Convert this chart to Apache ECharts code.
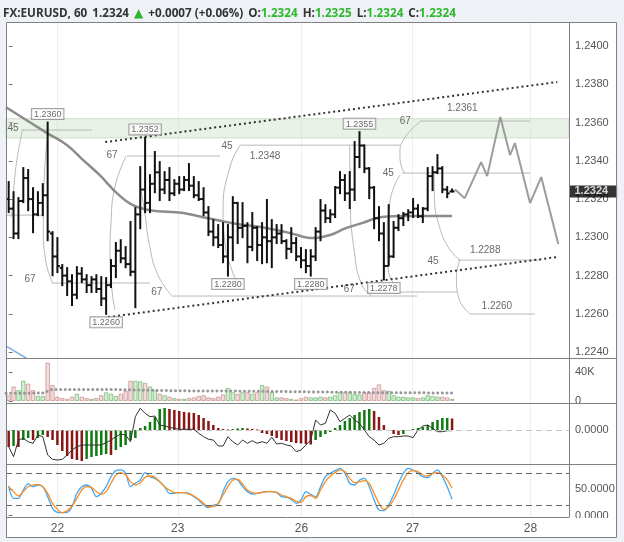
<!DOCTYPE html>
<html>
<head>
<meta charset="utf-8">
<title>FX:EURUSD, 60</title>
<script src="https://cdn.jsdelivr.net/npm/echarts@6.0.0/dist/echarts.min.js"></script>
<style>
  html, body { margin: 0; padding: 0; background: #eef1f5; }
  #chart { width: 624px; height: 542px; }
</style>
</head>
<body>
<div id="chart"></div>
<script>
// hourly bars, x = bar number counted from the left edge of the chart
const opens = [1.2320,1.2315,1.2302,1.2319,1.2331,1.2320,1.2312,1.2318,1.2322,1.2302,
  1.2290,1.2284,1.2280,1.2277,1.2270,1.2281,1.2278,1.2275,1.2278,1.2273,
  1.2268,1.2275,1.2285,1.2293,1.2289,1.2286,1.2282,1.2312,1.2325,1.2318,
  1.2328,1.2334,1.2325,1.2330,1.2323,1.2328,1.2325,1.2330,1.2327,1.2322,
  1.2320,1.2313,1.2303,1.2300,1.2296,1.2290,1.2300,1.2318,1.2305,1.2306,
  1.2295,1.2305,1.2296,1.2300,1.2298,1.2300,1.2302,1.2298,1.2294,1.2297,
  1.2290,1.2288,1.2285,1.2290,1.2303,1.2314,1.2310,1.2312,1.2326,1.2330,
  1.2323,1.2325,1.2342,1.2348,1.2336,1.2326,1.2310,1.2302,1.2285,1.2290,
  1.2305,1.2310,1.2312,1.2313,1.2315,1.2311,1.2315,1.2332,1.2334,1.2336,
  1.2325,1.2324];
const highs = [1.23289,1.23236,1.23205,1.23362,1.23352,1.23257,1.23236,1.23278,1.23600,1.23027,
  1.22996,1.22855,1.22839,1.22802,1.22844,1.22839,1.22802,1.22792,1.22802,1.22792,
  1.22787,1.22881,1.22970,1.22985,1.22949,1.23080,1.23153,1.23367,1.23520,1.23325,
  1.23446,1.23393,1.23341,1.23362,1.23299,1.23315,1.23315,1.23383,1.23315,1.23289,
  1.23257,1.23158,1.23090,1.23064,1.23074,1.23064,1.23210,1.23180,1.23179,1.23074,
  1.23127,1.23053,1.23074,1.23195,1.23090,1.23064,1.23064,1.22985,1.23048,1.22996,
  1.22944,1.22933,1.22933,1.23048,1.23195,1.23168,1.23142,1.23263,1.23341,1.23325,
  1.23341,1.23498,1.23550,1.23480,1.23362,1.23263,1.23158,1.23074,1.23168,1.23080,
  1.23116,1.23127,1.23142,1.23200,1.23168,1.23153,1.23362,1.23367,1.23430,1.23367,
  1.23263,1.23250];
const lows = [1.23132,1.22996,1.22996,1.23184,1.23142,1.23027,1.23116,1.23116,1.22985,1.22802,
  1.22818,1.22750,1.22698,1.22646,1.22682,1.22766,1.22714,1.22714,1.22714,1.22646,
  1.22600,1.22740,1.22792,1.22870,1.22844,1.22802,1.22635,1.23048,1.23132,1.23132,
  1.23236,1.23195,1.23231,1.23195,1.23221,1.23231,1.23247,1.23247,1.23210,1.23195,
  1.23116,1.23012,1.22959,1.22949,1.22870,1.22800,1.22881,1.22970,1.23001,1.22870,
  1.22933,1.22881,1.22865,1.22870,1.22844,1.22970,1.22970,1.22891,1.22923,1.22881,
  1.22844,1.22818,1.22800,1.22881,1.22985,1.23080,1.23080,1.23106,1.23231,1.23195,
  1.23153,1.23195,1.23367,1.23341,1.23205,1.23048,1.22985,1.22780,1.22855,1.22897,
  1.23038,1.23064,1.23090,1.23106,1.23106,1.23080,1.23142,1.23247,1.23336,1.23236,
  1.23210,1.23240];
const closes = [1.2315,1.2302,1.2319,1.2331,1.2320,1.2312,1.2318,1.2322,1.2303,1.2290,
  1.2285,1.2280,1.2277,1.2270,1.2281,1.2278,1.2275,1.2278,1.2273,1.2268,
  1.2275,1.2285,1.2293,1.2289,1.2286,1.2282,1.2312,1.2325,1.2318,1.2328,
  1.2334,1.2325,1.2330,1.2323,1.2328,1.2325,1.2330,1.2327,1.2322,1.2320,
  1.2313,1.2303,1.2300,1.2296,1.2290,1.2300,1.2318,1.2305,1.2306,1.2295,
  1.2305,1.2296,1.2300,1.2298,1.2300,1.2302,1.2298,1.2294,1.2297,1.2290,
  1.2288,1.2285,1.2290,1.2303,1.2314,1.2310,1.2312,1.2326,1.2330,1.2323,
  1.2325,1.2342,1.2348,1.2336,1.2326,1.2310,1.2302,1.2285,1.2290,1.2305,
  1.2310,1.2312,1.2313,1.2315,1.2311,1.2315,1.2332,1.2334,1.2336,1.2325,
  1.2323,1.2324];

// volume in thousands
const volumesK = [8,20,15,28,24,15,7,7,53,22, 6,4,3,6,10,6,4,3,4,8,
  12,10,7,10,14,28,28,27,25,20, 15,10,8,6,4,3,3,4,5,7,
  8,5,4,6,9,18,12,10,12,12, 10,12,22,20,12,5,5,4,3,2,
  4,6,5,5,6,5,6,8,12,12, 12,10,9,12,12,18,23,15,14,8,
  6,6,5,5,4,5,8,7,6,6, 5,3];
const volumeAvgK = [[-0.55,10.5],[7,11],[9,16],[20,16],[27,15],[35,14],[50,13.5],[62,12.5],[75,11.5],[91,11]];

const macdHist = [-17e-5,-16e-5,-17e-5,-10e-5,-8e-5,-10e-5,-8e-5,-5e-5,-7e-5,-10e-5,
  -15e-5,-21e-5,-26e-5,-29e-5,-30e-5,-31e-5,-29e-5,-27e-5,-26e-5,-25e-5,
  -24e-5,-25e-5,-20e-5,-17e-5,-15e-5,-10e-5,-8e-5,2e-5,4e-5,8e-5,
  13e-5,21e-5,22e-5,21e-5,20e-5,19e-5,18e-5,17.5e-5,17e-5,15e-5,
  12e-5,9e-5,5e-5,2e-5,1e-5,0.5e-5,1e-5,1.5e-5,2e-5,1.5e-5,
  1e-5,0.5e-5,-3e-5,-4e-5,-6e-5,-8e-5,-10e-5,-11e-5,-12e-5,-13e-5,
  -13.5e-5,-14e-5,-14.5e-5,-10e-5,-7e-5,-4e-5,-2e-5,2e-5,5e-5,9e-5,
  12e-5,15e-5,18e-5,20e-5,21e-5,19e-5,13e-5,5e-5,-1e-5,-4e-5,
  -5e-5,-4e-5,-1e-5,1e-5,2e-5,3e-5,5e-5,8e-5,10e-5,12e-5,
  12e-5,11.5e-5];
const macdLine = [-16.7e-5,-26.7e-5,-10e-5,-8.3e-5,-11.7e-5,-13.3e-5,-5e-5,-6.7e-5,-25e-5,-29.3e-5,
  -30e-5,-29.3e-5,-25e-5,-20e-5,-16.7e-5,-15e-5,-15e-5,-15e-5,-15e-5,-15e-5,
  -12.7e-5,-10e-5,-6.7e-5,-4e-5,-5e-5,-11.7e-5,13.3e-5,21.7e-5,16.7e-5,13.3e-5,
  14e-5,5e-5,4e-5,2.7e-5,1.7e-5,0.7e-5,0.7e-5,0.7e-5,0.7e-5,-3.3e-5,
  -6.7e-5,-9.3e-5,-10e-5,-16e-5,-16e-5,-6.7e-5,-11.7e-5,-15e-5,-10e-5,-13.3e-5,
  -10.7e-5,-13.3e-5,-11.7e-5,-13.3e-5,-7.3e-5,-14e-5,-13.3e-5,-15e-5,-16e-5,-21.7e-5,
  -20e-5,-15e-5,-10e-5,10e-5,5e-5,6.7e-5,20e-5,16.7e-5,8.3e-5,11.7e-5,
  15e-5,10e-5,6.7e-5,0,-6.7e-5,-10e-5,-15e-5,-13.3e-5,-8.3e-5,-6.7e-5,
  -6.7e-5,-6e-5,-6e-5,-7.7e-5,0,4e-5,5e-5,1.7e-5,-1.7e-5,-1.7e-5,
  -0.7e-5,-0.7e-5];
const macdLevels = [5e-5, -16e-5];

const stochK = [56,32.6,32.6,48.4,59.8,54.7,57.9,54.7,35.8,13.7,
  6.1,5.5,6.1,16.8,42.1,54.7,57.9,51.6,35.8,42.1,
  54.7,73.7,85.1,86.3,80,54.7,61.1,67.4,81.3,73.7,
  70.5,64.2,54.7,42.1,42.1,43.4,43.4,42.1,35.8,29.5,
  20,14.9,20,21.9,45.3,64.2,70.5,67.4,54.7,45.3,
  40.8,42.1,44,45.3,45.3,43.4,35.8,34.5,30.7,23.2,
  29.5,45.3,40,35.8,54.7,73.7,80,85.1,89.5,80,
  61.1,57.9,67.4,70.5,54.7,29.5,10.5,9.3,20,38.9,
  61.1,80,89.5,86.3,80,73.7,71.8,80,86.3,73.7,
  54.7,30.7];
const stochD = [54.7,45.3,37.1,45.3,54.7,57.9,59.2,54.7,42.1,23.2,
  11.8,5.5,9.3,18.1,32.6,48.4,54.7,53.5,45.3,40.8,
  45.3,61.1,76.8,81.3,76.8,64.2,57.9,62.3,72.4,74.9,
  72.4,64.2,54.7,48.4,43.4,43.4,43.4,40.8,37.1,30.7,
  23.2,16.8,16.8,23.2,38.9,54.7,67.4,68.6,59.8,48.4,
  43.4,42.1,44,45.3,45.3,44,38.9,35.8,32.6,26.8,
  25,35.8,38,32.6,48.4,64.2,74.9,81.3,86.3,83.2,
  70.5,62.3,64.2,66.1,61.1,42.1,23.2,11.8,16.8,29.5,
  48.4,67.4,81.3,85.1,83.2,76.8,74.9,80,81.3,76.8,
  67.4,51.6];
const stochLevels = [80, 20];

// moving average and drawings on the price pane, as [bar, price]
const maPoints = [[-0.55,1.23680],[7.9,1.23545],[12,1.23482],[15.3,1.23404],[18.7,1.23325],[22.2,1.23231],
  [25.5,1.23168],[29,1.23142],[35.8,1.23127],[40.7,1.23101],[46,1.23074],[53,1.23048],[57.8,1.23022],
  [62.5,1.22996],[66,1.23012],[69.2,1.23048],[72.5,1.23074],[76.6,1.23106],[82.2,1.23111],[91,1.23111]];
const channelUpper = [[19.8,1.23498],[112.6,1.23812]];
const channelLower = [[20.4,1.22583],[112.6,1.22897]];
const forecast = [[91.6,1.23250],[93.6,1.23205],[96.96,1.23393],[98.2,1.23320],[100.9,1.23629],
  [102.9,1.23430],[103.9,1.23493],[107,1.23179],[109.3,1.23315],[112.8,1.22965]];
const blueTrail = [[-0.55,1.22431],[3.6,1.22369]];
const zoneBand = [1.2352, 1.2362];

const fibLevels = [[2.7,17.1,1.23561],[-0.55,7.0,1.23116],[8.9,29.0,1.22761],[24.3,43.4,1.23425],
  [47.5,80.3,1.23482],[33.7,83.8,1.22693],[80.3,92.0,1.22714],[84.4,107.0,1.23608],
  [80.7,107.0,1.23336],[92.2,109.1,1.22881],[94.7,108.0,1.22599]];
const fibArcs = [
  [[2.87,1.23566],[1.85,1.2343],[1.15,1.23289],[0.82,1.23168],[0.47,1.23106]],
  [[8.0,1.23535],[7.3,1.2331],[7.1,1.23048],[7.66,1.2287],[9.03,1.22761]],
  [[24.1,1.23425],[21.8,1.23263],[21.0,1.23074],[20.8,1.22897],[21.2,1.22724],[21.8,1.2262]],
  [[26.96,1.23273],[27.9,1.23132],[28.9,1.22959],[30.65,1.22802],[33.7,1.22688]],
  [[47.5,1.23482],[45.4,1.23367],[44.0,1.23142],[44.4,1.2297],[45.8,1.22829],[47.5,1.22735]],
  [[70.0,1.23482],[70.1,1.23195],[70.9,1.22933],[72.5,1.2275],[74.6,1.22693]],
  [[84.4,1.23603],[81.4,1.23524],[80.3,1.2344],[80.7,1.23362],[81.4,1.23336]],
  [[80.3,1.23325],[78.3,1.23195],[77.7,1.22985],[77.9,1.22829],[80.3,1.22724]],
  [[87.3,1.23336],[87.4,1.23200],[88.2,1.23074],[90.2,1.22949],[92.6,1.22881]],
  [[92.6,1.22881],[91.9,1.22792],[92.3,1.22688],[94.7,1.22599]]
];
const fibTexts = [[0.9,1.23571,'45'],[4.37,1.22782,'67'],[21.2,1.2343,'67'],[30.4,1.22714,'67'],
  [44.8,1.23477,'45'],[52.6,1.23425,'1.2348'],[69.9,1.22729,'67'],[77.9,1.23336,'45'],
  [81.4,1.23608,'67'],[93.1,1.23676,'1.2361'],[97.8,1.22933,'1.2288'],[87.1,1.22876,'45'],
  [100.2,1.2264,'1.2260']];
const pivots = [[8,1.2360,'top'],[28,1.2352,'top'],[72,1.2355,'top'],
  [20,1.2260,'bottom'],[45,1.2280,'bottom'],[62,1.2280,'bottom'],[77,1.2278,'bottom']];

const lastPrice = 1.2324;
const dayTicks = [10, 34.7, 60.1, 82.9, 107.1];
const dayLabels = ['22', '23', '26', '27', '28'];
const priceTicks = [1.224, 1.226, 1.228, 1.230, 1.232, 1.234, 1.236, 1.238, 1.240];

const xMin = -0.55, xMax = 115;
const font = 'Liberation Sans, Arial, sans-serif';
const chart = echarts.init(document.getElementById('chart'));

function xAxisFor(gi, labels) {
  return {
    type: 'value', gridIndex: gi, min: xMin, max: xMax,
    axisLine: { show: false },
    axisTick: { show: false, customValues: dayTicks },
    axisLabel: {
      show: labels, customValues: dayTicks, color: '#555', fontSize: 12, margin: 6,
      formatter: v => dayLabels[dayTicks.indexOf(v)] || ''
    },
    splitLine: { show: true, lineStyle: { color: '#eeeeee' } }
  };
}

function yAxisFor(gi, min, max, ticks, fmt) {
  return {
    type: 'value', gridIndex: gi, position: 'right', min, max,
    axisLine: { show: false },
    axisTick: { show: true, length: 4, customValues: ticks, lineStyle: { color: '#777' } },
    axisLabel: { customValues: ticks, formatter: fmt, color: '#555', fontSize: 11, margin: 6 },
    splitLine: { show: false }
  };
}

function renderBar(params, api) {
  const x = api.value(0);
  const o = api.coord([x, api.value(1)]);
  const h = api.coord([x, api.value(2)]);
  const l = api.coord([x, api.value(3)]);
  const c = api.coord([x, api.value(4)]);
  const style = { stroke: '#111', lineWidth: 2 };
  return {
    type: 'group',
    children: [
      { type: 'line', shape: { x1: h[0], y1: h[1] - 1, x2: l[0], y2: l[1] + 1 }, style },
      { type: 'line', shape: { x1: o[0] - 2.5, y1: o[1], x2: o[0], y2: o[1] }, style },
      { type: 'line', shape: { x1: c[0], y1: c[1], x2: c[0] + 2.5, y2: c[1] }, style }
    ]
  };
}

const drawColor = '#b8b8b8';
const priceSeries = [];

priceSeries.push({
  name: 'EURUSD', type: 'custom', xAxisIndex: 0, yAxisIndex: 0, z: 6,
  renderItem: renderBar,
  encode: { x: 0, y: [1, 2, 3, 4] },
  data: opens.map((o, i) => [i, o, highs[i], lows[i], closes[i]]),
  markArea: {
    silent: true,
    itemStyle: { color: 'rgba(205,226,200,0.45)', borderColor: '#cfdccb', borderWidth: 1 },
    data: [[{ xAxis: xMin, yAxis: zoneBand[0] }, { xAxis: xMax, yAxis: zoneBand[1] }]]
  }
});

fibLevels.forEach(([x1, x2, p]) => priceSeries.push({
  type: 'line', xAxisIndex: 0, yAxisIndex: 0, symbol: 'none', silent: true, z: 2,
  lineStyle: { color: drawColor, width: 1 }, data: [[x1, p], [x2, p]]
}));
fibArcs.forEach(arc => priceSeries.push({
  type: 'line', xAxisIndex: 0, yAxisIndex: 0, symbol: 'none', silent: true, z: 2,
  smooth: 0.5, lineStyle: { color: drawColor, width: 1 }, data: arc
}));

priceSeries.push(
  { name: 'MA', type: 'line', xAxisIndex: 0, yAxisIndex: 0, symbol: 'none', smooth: 0.4, z: 4,
    lineStyle: { color: '#8c8c8c', width: 2.5 }, data: maPoints },
  { name: 'Forecast', type: 'line', xAxisIndex: 0, yAxisIndex: 0, symbol: 'none', z: 4,
    lineStyle: { color: '#9c9c9c', width: 2 }, data: forecast },
  { type: 'line', xAxisIndex: 0, yAxisIndex: 0, symbol: 'none', z: 4,
    lineStyle: { color: '#333', width: 2, type: [2, 3] }, data: channelUpper },
  { type: 'line', xAxisIndex: 0, yAxisIndex: 0, symbol: 'none', z: 4,
    lineStyle: { color: '#333', width: 2, type: [2, 3] }, data: channelLower },
  { type: 'line', xAxisIndex: 0, yAxisIndex: 0, symbol: 'none', z: 3,
    lineStyle: { color: '#7fb2e0', width: 1.5 }, data: blueTrail },
  { type: 'scatter', xAxisIndex: 0, yAxisIndex: 0, symbolSize: 1, silent: true, z: 7,
    itemStyle: { color: 'rgba(0,0,0,0)' },
    label: { show: true, position: 'inside', formatter: p => p.value[2], color: '#444', fontSize: 10, fontFamily: font },
    data: fibTexts },
  { type: 'scatter', xAxisIndex: 0, yAxisIndex: 0, symbolSize: 1, silent: true, z: 8,
    itemStyle: { color: 'rgba(0,0,0,0)' },
    data: pivots.map(([x, p, side]) => ({
      value: [x, p],
      label: {
        show: true, position: side, distance: 3, formatter: p.toFixed(4),
        color: '#444', fontSize: 9, fontFamily: font, backgroundColor: '#fff',
        borderColor: '#8a8a8a', borderWidth: 1, padding: [1, 2, 0, 2]
      }
    })) },
  // last price tag on the price scale
  { type: 'scatter', xAxisIndex: 0, yAxisIndex: 0, symbolSize: 1, silent: true, z: 50, clip: false,
    itemStyle: { color: 'rgba(0,0,0,0)' },
    label: {
      show: true, position: 'right', distance: 0, formatter: lastPrice.toFixed(4),
      backgroundColor: '#000', color: '#fff', fontWeight: 'bold', fontSize: 11,
      padding: [1, 9, 0, 5], fontFamily: font
    },
    data: [[xMax, lastPrice]] }
);

const upFill = 'rgba(120,200,120,0.32)', upEdge = 'rgba(100,180,100,0.65)';
const dnFill = 'rgba(215,150,150,0.32)', dnEdge = 'rgba(200,130,130,0.65)';

const option = {
  animation: false,
  backgroundColor: '#eef1f5',
  textStyle: { fontFamily: font },
  title: {
    left: 3, top: 5, padding: 0,
    text: '{b|FX:EURUSD, 60} {n|1.2324} {g|▲} {n|+0.0007 (+0.06%)} {b|O:}{v|1.2324} {b|H:}{v|1.2325} {b|L:}{v|1.2324} {b|C:}{v|1.2324}',
    textStyle: {
      rich: {
        b: { fontFamily: 'Open Sans', fontSize: 11.7, fontWeight: 'bold', color: '#333' },
        n: { fontFamily: 'Open Sans', fontSize: 11.7, color: '#333' },
        g: { fontFamily: 'DejaVu Sans', fontSize: 12, color: '#2db52d' },
        v: { fontFamily: 'Open Sans', fontSize: 11.7, color: '#2eb82e' }
      }
    }
  },
  graphic: [
    { type: 'rect', z: -10, silent: true, shape: { x: 6, y: 22, width: 610, height: 515 }, style: { fill: '#fff' } },
    { type: 'rect', z: 100, silent: true, shape: { x: 570, y: 518, width: 45, height: 8 }, style: { fill: '#fff' } },
    { type: 'rect', z: 101, silent: true, shape: { x: 6.5, y: 22.5, width: 610, height: 515 }, style: { fill: null, stroke: '#808080', lineWidth: 1 } },
    { type: 'line', z: 101, silent: true, shape: { x1: 6, y1: 358.5, x2: 616, y2: 358.5 }, style: { stroke: '#808080', lineWidth: 1 } },
    { type: 'line', z: 101, silent: true, shape: { x1: 6, y1: 403.5, x2: 616, y2: 403.5 }, style: { stroke: '#808080', lineWidth: 1 } },
    { type: 'line', z: 101, silent: true, shape: { x1: 6, y1: 464.5, x2: 616, y2: 464.5 }, style: { stroke: '#808080', lineWidth: 1 } },
    { type: 'line', z: 101, silent: true, shape: { x1: 6, y1: 517.5, x2: 569, y2: 517.5 }, style: { stroke: '#808080', lineWidth: 1 } },
    { type: 'line', z: 101, silent: true, shape: { x1: 569.5, y1: 22, x2: 569.5, y2: 517.5 }, style: { stroke: '#808080', lineWidth: 1 } }
  ],
  grid: [
    { left: 6, top: 22, width: 563, height: 336 },
    { left: 6, top: 358, width: 563, height: 45 },
    { left: 6, top: 403, width: 563, height: 61 },
    { left: 6, top: 464, width: 563, height: 53 }
  ],
  xAxis: [xAxisFor(0, false), xAxisFor(1, false), xAxisFor(2, false), xAxisFor(3, true)],
  yAxis: [
    yAxisFor(0, 1.22369, 1.24126, priceTicks, v => v.toFixed(4)),
    yAxisFor(1, -2.8, 59.3, [0, 40], v => (v ? v + 'K' : '0')),
    yAxisFor(2, -34e-5, 27e-5, [0], v => v.toFixed(4)),
    yAxisFor(3, -2.7, 97.6, [0, 50], v => v.toFixed(4))
  ],
  series: priceSeries.concat([
    { name: 'Volume', type: 'bar', xAxisIndex: 1, yAxisIndex: 1, barWidth: 4.5,
      data: volumesK.map((v, i) => {
        const up = closes[i] >= opens[i];
        return { value: [i, v], itemStyle: { color: up ? upFill : dnFill, borderColor: up ? upEdge : dnEdge, borderWidth: 1 } };
      }) },
    { name: 'Volume MA', type: 'line', xAxisIndex: 1, yAxisIndex: 1, symbol: 'none', z: 4,
      lineStyle: { color: '#999', width: 3, type: [0.1, 4.5], cap: 'round' }, data: volumeAvgK },
    { name: 'Histogram', type: 'bar', xAxisIndex: 2, yAxisIndex: 2, barWidth: 2.5,
      data: macdHist.map((v, i) => ({
        value: [i, v],
        itemStyle: { color: i > 0 && v >= macdHist[i - 1] ? '#127a12' : '#8a1616' }
      })) },
    { name: 'MACD', type: 'line', xAxisIndex: 2, yAxisIndex: 2, symbol: 'none', z: 4,
      lineStyle: { color: '#333', width: 1 },
      data: macdLine.map((v, i) => [i, v]),
      markLine: { silent: true, symbol: 'none', label: { show: false },
        lineStyle: { color: '#c4c4c4', type: [6, 4], width: 1 },
        data: macdLevels.map(v => ({ yAxis: v })) } },
    { name: '%K', type: 'line', xAxisIndex: 3, yAxisIndex: 3, symbol: 'none', smooth: 0.3, z: 4,
      lineStyle: { color: '#3fa9f5', width: 1.3 }, data: stochK.map((v, i) => [i, v]),
      markLine: { silent: true, symbol: 'none', label: { show: false },
        lineStyle: { color: '#666', type: [6, 4], width: 1 },
        data: stochLevels.map(v => ({ yAxis: v })) } },
    { name: '%D', type: 'line', xAxisIndex: 3, yAxisIndex: 3, symbol: 'none', smooth: 0.3, z: 4,
      lineStyle: { color: '#ff8c1f', width: 1.3 }, data: stochD.map((v, i) => [i, v]) }
  ])
};

chart.setOption(option);
</script>
</body>
</html>
